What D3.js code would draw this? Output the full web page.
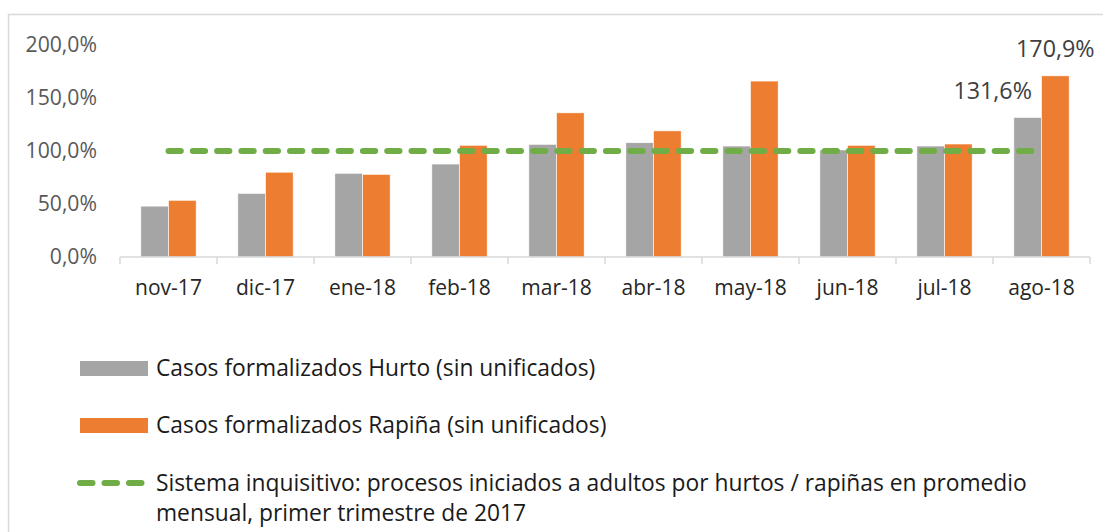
<!DOCTYPE html>
<html>
<head>
<meta charset="utf-8">
<script src="https://cdn.jsdelivr.net/npm/d3@7"></script>
<style>
  html, body { margin: 0; padding: 0; background: #fff; }
  svg { display: block; font-family: "Open Sans", "Noto Sans", sans-serif; }
</style>
</head>
<body>
<svg id="chart" width="1103" height="532"></svg>
<script>
const categories = ["nov-17","dic-17","ene-18","feb-18","mar-18","abr-18","may-18","jun-18","jul-18","ago-18"];
const hurto  = [48.0, 60.0, 79.0, 87.7, 106.3, 107.8, 104.7, 101.0, 104.7, 131.6];
const rapina = [53.5, 80.0, 78.0, 105.4, 136.0, 119.0, 166.0, 105.4, 106.6, 170.9];
const inquisitivo = [100, 100, 100, 100, 100, 100, 100, 100, 100, 100];
const yTicks = [0, 50, 100, 150, 200];
const seriesNames = [
  "Casos formalizados Hurto (sin unificados)",
  "Casos formalizados Rapiña (sin unificados)",
  "Sistema inquisitivo: procesos iniciados a adultos por hurtos / rapiñas en promedio",
  "mensual, primer trimestre de 2017"
];

const fmt = v => v.toFixed(1).replace(".", ",") + "%";

const svg = d3.select("#chart");
const colors = { hurto: "#A5A5A5", rapina: "#ED7D31", line: "#70AD47" };

// chart border
svg.append("rect")
  .attr("x", 8.5).attr("y", 14.5)
  .attr("width", 1110).attr("height", 540)
  .attr("fill", "none").attr("stroke", "#d9d9d9").attr("stroke-width", 1.5);

const x = d3.scaleBand().domain(categories).range([120, 1090]).padding(0);
const y = d3.scaleLinear().domain([0, 200]).range([257, 45]);

const groupW = x.bandwidth() * 0.57;
const xs = d3.scaleBand().domain(["h","r"]).range([0, groupW]).padding(0);
const offset = (x.bandwidth() - groupW) / 2;

// y axis labels (no line)
const yAxis = svg.append("g").attr("transform", "translate(97,0)")
  .call(d3.axisLeft(y).tickValues(yTicks).tickFormat(d => fmt(d)).tickSize(0).tickPadding(0));
yAxis.select(".domain").remove();
yAxis.selectAll("text").attr("fill", "#595959").style("font-size", "21.2px")
  .style("font-family", "'Open Sans', sans-serif");

// bars
const gBars = svg.append("g");
categories.forEach((c, i) => {
  gBars.append("rect")
    .attr("x", x(c) + offset + xs("h"))
    .attr("y", y(hurto[i]))
    .attr("width", xs.bandwidth())
    .attr("height", y(0) - y(hurto[i]))
    .attr("fill", colors.hurto)
    .attr("stroke", "#ffffff").attr("stroke-width", 0.6);
  gBars.append("rect")
    .attr("x", x(c) + offset + xs("r"))
    .attr("y", y(rapina[i]))
    .attr("width", xs.bandwidth())
    .attr("height", y(0) - y(rapina[i]))
    .attr("fill", colors.rapina)
    .attr("stroke", "#ffffff").attr("stroke-width", 0.6);
});

// x axis
const xAxis = svg.append("g").attr("transform", `translate(0,${y(0)})`)
  .call(d3.axisBottom(x).tickSize(0).tickPadding(23));
xAxis.select(".domain").attr("stroke", "#d9d9d9").attr("stroke-width", 1.5)
  .attr("d", `M${x.range()[0]},0H${x.range()[1]}`);
xAxis.selectAll("text").attr("fill", "#262626").style("font-size", "21px")
  .style("font-family", "'Open Sans', sans-serif");
// boundary tick marks
const bounds = categories.map(c => x(c)).concat([x.range()[1]]);
xAxis.selectAll("line.bound").data(bounds).join("line")
  .attr("class", "bound")
  .attr("x1", d => d).attr("x2", d => d)
  .attr("y1", 0).attr("y2", 7)
  .attr("stroke", "#d9d9d9").attr("stroke-width", 1.5);

// dashed reference line
const line = d3.line()
  .x((d, i) => x(categories[i]) + x.bandwidth() / 2)
  .y(d => y(d));
svg.append("path")
  .datum(inquisitivo)
  .attr("d", line)
  .attr("fill", "none")
  .attr("stroke", colors.line)
  .attr("stroke-width", 6)
  .attr("stroke-linecap", "round")
  .attr("stroke-dasharray", "12.3,12");

// data labels on last category
const last = categories.length - 1;
const lc = categories[last];
svg.append("text")
  .attr("x", x(lc) + offset + xs("h") + xs.bandwidth() / 2 - 35)
  .attr("y", y(hurto[last]) - 18.5)
  .attr("text-anchor", "middle")
  .attr("fill", "#404040").style("font-size", "23.3px")
  .text(fmt(hurto[last]));
svg.append("text")
  .attr("x", x(lc) + offset + xs("r") + xs.bandwidth() / 2)
  .attr("y", y(rapina[last]) - 18.5)
  .attr("text-anchor", "middle")
  .attr("fill", "#404040").style("font-size", "23.3px")
  .text(fmt(rapina[last]));

// legend
const lg = svg.append("g");
const legFont = "22.8px";
lg.append("rect").attr("x", 80).attr("y", 361).attr("width", 68).attr("height", 15).attr("fill", colors.hurto);
lg.append("text").attr("x", 156).attr("y", 376).attr("fill", "#1a1a1a").style("font-size", legFont).text(seriesNames[0]);
lg.append("rect").attr("x", 80).attr("y", 418).attr("width", 68).attr("height", 15).attr("fill", colors.rapina);
lg.append("text").attr("x", 156).attr("y", 433).attr("fill", "#1a1a1a").style("font-size", legFont).text(seriesNames[1]);
lg.append("line").attr("x1", 80).attr("x2", 143).attr("y1", 483).attr("y2", 483)
  .attr("stroke", colors.line).attr("stroke-width", 6).attr("stroke-linecap", "round")
  .attr("stroke-dasharray", "12.5,12");
lg.append("text").attr("x", 156).attr("y", 491).attr("fill", "#1a1a1a").style("font-size", legFont).text(seriesNames[2]);
lg.append("text").attr("x", 156).attr("y", 521).attr("fill", "#1a1a1a").style("font-size", legFont).text(seriesNames[3]);
</script>
</body>
</html>
